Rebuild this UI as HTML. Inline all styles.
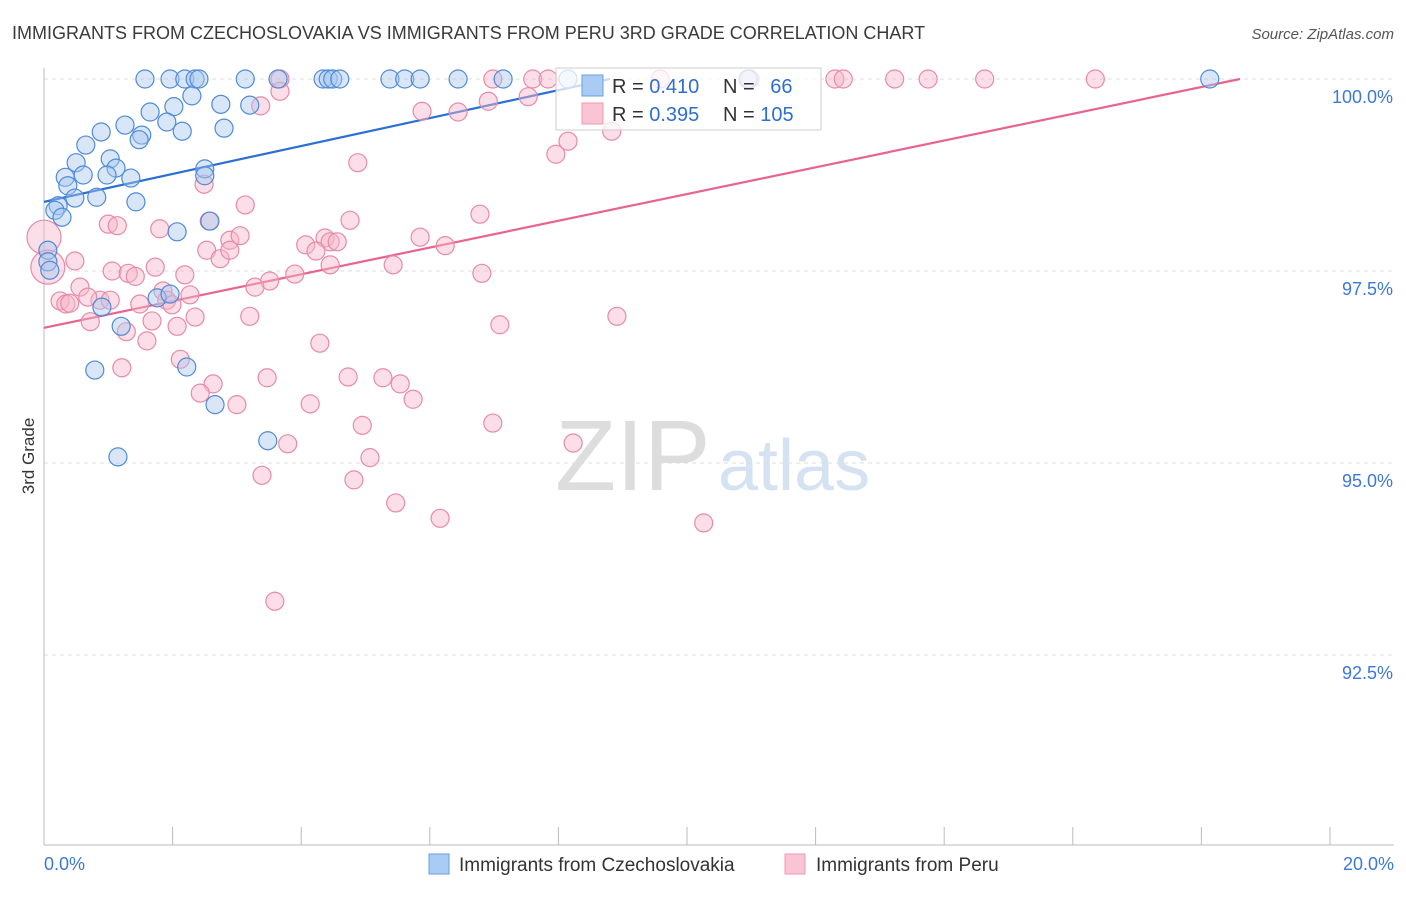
<!DOCTYPE html>
<html><head><meta charset="utf-8"><style>
body{margin:0;background:#fff;font-family:"Liberation Sans",sans-serif;}
svg text{font-family:"Liberation Sans",sans-serif;}
</style></head><body>
<svg id="chart" width="1406" height="892" viewBox="0 0 1406 892" xmlns="http://www.w3.org/2000/svg">
<text x="12" y="39" font-size="18" fill="#3a3a3a">IMMIGRANTS FROM CZECHOSLOVAKIA VS IMMIGRANTS FROM PERU 3RD GRADE CORRELATION CHART</text>
<text x="1394" y="39" font-size="15" fill="#555" text-anchor="end" font-style="italic">Source: ZipAtlas.com</text>
<text transform="translate(34,456) rotate(-90)" font-size="17" fill="#333" text-anchor="middle">3rd Grade</text>
<g>
<text x="555" y="490" font-size="100" fill="#ddd" font-family="Liberation Serif">ZIP</text>
<text x="718" y="490" font-size="72" fill="#d4e2f2">atlas</text>
</g>
<g id="grid"></g><g id="axes"></g><g id="trend"></g><g id="pts"></g>
<g>
<rect x="556" y="68" width="265" height="62" fill="#fff" fill-opacity="0.75" stroke="#ccc"/>
<rect x="582" y="75" width="21" height="21" fill="#aaccf4" stroke="#6a9ee0"/>
<rect x="582" y="103" width="21" height="21" fill="#f9c4d4" stroke="#ee9ab4"/>
<text x="612" y="93" font-size="20" fill="#333">R = <tspan fill="#2d6fd0">0.410</tspan></text>
<text x="723" y="93" font-size="20" fill="#333">N = <tspan fill="#2d6fd0" dx="10">66</tspan></text>
<text x="612" y="121" font-size="20" fill="#333">R = <tspan fill="#2d6fd0">0.395</tspan></text>
<text x="723" y="121" font-size="20" fill="#333">N = <tspan fill="#2d6fd0">105</tspan></text>
</g>
<g>
<rect x="429" y="854" width="20" height="20" fill="#aaccf4" stroke="#6a9ee0"/>
<text x="459" y="871" font-size="19" fill="#333">Immigrants from Czechoslovakia</text>
<rect x="785" y="854" width="20" height="20" fill="#f9c4d4" stroke="#ee9ab4"/>
<text x="816" y="871" font-size="19" fill="#333">Immigrants from Peru</text>
</g>
</svg>
<script>
const xTicks=[0,2,4,6,8,10,12,14,16,18,20];
const yTicks=[92.5,95,97.5,100];
const yTickLabels=["92.5%","95.0%","97.5%","100.0%"];
const blueX=[1.57,1.96,2.19,2.35,2.41,3.13,3.64,4.34,4.42,4.49,4.60,5.38,5.61,5.85,6.44,7.14,8.15,10.95,18.13,2.30,1.65,2.02,2.75,3.20,1.91,1.26,2.15,2.80,1.52,1.48,0.89,0.65,1.03,0.50,1.12,0.33,0.98,0.61,1.35,0.37,2.50,2.50,0.82,0.48,0.22,0.17,1.43,0.28,2.58,2.07,0.06,0.06,0.09,1.76,1.96,0.90,1.20,0.79,2.22,2.66,3.48,1.15];
const blueY=[100,100,100,100,100,100,100,100,100,100,100,100,100,100,100,100,100,100,100,99.78,99.57,99.64,99.67,99.66,99.44,99.40,99.32,99.36,99.27,99.21,99.31,99.14,98.96,98.91,98.84,98.72,98.75,98.75,98.71,98.61,98.83,98.74,98.46,98.45,98.35,98.29,98.40,98.20,98.15,98.01,97.77,97.62,97.51,97.15,97.20,97.03,96.78,96.21,96.25,95.76,95.29,95.08];
const pinkX=[3.67,6.98,7.60,7.84,9.58,10.98,12.30,12.43,13.23,13.75,14.63,16.35,3.67,3.37,5.88,6.44,6.91,7.53,8.15,8.83,7.96,4.88,2.49,3.13,6.78,4.76,1.00,1.14,1.80,2.57,2.89,3.05,4.37,4.45,4.56,4.07,4.23,5.85,6.24,2.53,2.74,2.89,0.48,1.73,2.19,1.06,1.31,1.42,3.51,3.90,4.45,5.43,6.81,3.28,0.56,0.87,0.68,1.03,1.49,0.25,0.34,0.40,1.85,1.91,1.99,2.27,2.35,3.20,1.68,2.07,0.72,1.28,1.60,4.29,7.09,8.91,2.12,2.63,2.43,1.21,3.47,4.73,5.27,5.54,5.74,3.00,4.14,6.98,4.95,3.79,8.23,5.07,3.39,4.82,5.47,6.16,10.26,3.59];
const pinkY=[100,100,100,100,100,100,100,100,100,100,100,100,99.84,99.65,99.58,99.57,99.71,99.77,99.19,99.32,99.02,98.91,98.63,98.36,98.24,98.16,98.11,98.09,98.05,98.15,97.90,97.96,97.93,97.88,97.88,97.84,97.76,97.94,97.83,97.77,97.66,97.77,97.63,97.55,97.45,97.50,97.47,97.43,97.37,97.46,97.58,97.58,97.47,97.29,97.29,97.12,97.16,97.12,97.07,97.11,97.07,97.08,97.24,97.12,97.06,97.19,96.90,96.91,96.85,96.78,96.84,96.71,96.59,96.56,96.80,96.91,96.35,96.03,95.91,96.24,96.11,96.12,96.11,96.03,95.83,95.76,95.77,95.52,95.49,95.25,95.26,95.07,94.84,94.78,94.48,94.28,94.22,93.20];
const bigPinkX=[0.0,0.06];
const bigPinkY=[97.94,97.55];
const blueTrend=[0,98.40,8.8,100];
const pinkTrend=[0,96.76,18.6,100];
const X=v=>44+v*64.3, Y=v=>79+(100-v)*76.8;
const NS="http://www.w3.org/2000/svg";
function mk(tag,attrs,parent){const e=document.createElementNS(NS,tag);for(const k in attrs)e.setAttribute(k,attrs[k]);document.getElementById(parent).appendChild(e);return e;}
yTicks.forEach((t,i)=>{
 const g=mk('line',{x1:44,x2:1394,y1:Y(t),y2:Y(t),stroke:'#ddd','stroke-dasharray':'4,4'},'grid');
 
 
 const tx=mk('text',{x:1393,y:Y(t)+24,'font-size':18,fill:'#3d78d6','text-anchor':'end'},'axes');
 tx.textContent=yTickLabels[i];
 
 
});
const ax=mk('line',{x1:44,x2:44,y1:68,y2:845,stroke:'#bbb'},'axes');


const bx=mk('line',{x1:44,x2:1394,y1:845,y2:845,stroke:'#bbb'},'axes');


xTicks.forEach(t=>{
 const l=mk('line',{x1:X(t),x2:X(t),y1:827,y2:845,stroke:'#bbb'},'axes');
 
 
});
const x0=mk('text',{x:44,y:870,'font-size':18,fill:'#3d78d6'},'axes');x0.textContent=xTicks[0].toFixed(1)+'%';


const x1=mk('text',{x:1394,y:870,'font-size':18,fill:'#3d78d6','text-anchor':'end'},'axes');x1.textContent=xTicks[xTicks.length-1].toFixed(1)+'%';


function dots(xs,ys,fill,stroke,r,name){xs.forEach((v,i)=>{
 const c=mk('circle',{cx:X(v),cy:Y(ys[i]),r:r,fill:fill,'fill-opacity':0.45,stroke:stroke,'stroke-width':1.2},'pts');
 
 
});}
dots(pinkX,pinkY,'#f7b6c9','#e88aa8',9,'peru-point');
dots(bigPinkX,bigPinkY,'#f7b6c9','#e88aa8',17,'peru-point-large');
dots(blueX,blueY,'#a8c8f0','#4f8ad8',9,'czech-point');
function trend(t,col,name){const l=mk('line',{x1:X(t[0]),y1:Y(t[1]),x2:X(t[2]),y2:Y(t[3]),stroke:col,'stroke-width':2.2},'trend');
 
 }
trend(blueTrend,'#2a6fd6','czech-trend-line');
trend(pinkTrend,'#e8648e','peru-trend-line');
</script>
</body></html>
